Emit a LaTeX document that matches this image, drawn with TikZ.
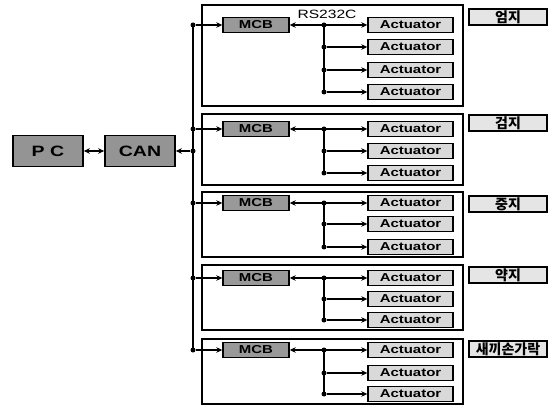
\documentclass[tikz,border=0pt]{standalone}
\usepackage{fontspec}
\setmainfont{Liberation Sans}
\newfontfamily\widefont[FakeStretch=1.3]{Liberation Sans}
\newfontfamily\krfont{Noto Sans CJK KR}
\usetikzlibrary{arrows.meta,positioning}

\begin{document}
\begin{tikzpicture}[x=1pt,y=-1pt,>={Stealth[length=6pt,width=5.5pt]},
  dev/.style={draw,line width=1.6pt,fill=black!42,minimum width=70pt,minimum height=31pt,inner sep=0pt,font=\widefont\fontsize{15}{15}\selectfont\bfseries},
  mcb/.style={draw,line width=1.4pt,fill=black!40,minimum width=66pt,minimum height=15pt,inner sep=0pt,font=\widefont\fontsize{11.5}{12}\selectfont\bfseries},
  act/.style={draw,line width=1.4pt,fill=black!15,minimum width=85pt,minimum height=15pt,inner sep=0pt,font=\widefont\fontsize{11.5}{12}\selectfont\bfseries},
  lbl/.style={draw,line width=1.4pt,fill=black!10,minimum width=78pt,minimum height=16pt,inner sep=0pt,font=\krfont\fontsize{14}{14}\selectfont\bfseries},
  grp/.style={draw,line width=2.4pt,minimum width=261pt,inner sep=0pt},
  wire/.style={line width=1.3pt},
  dot/.style={circle,fill,inner sep=0pt,minimum size=5pt}]
\useasboundingbox (0,0) rectangle (557,406);
\node[dev] (pc) at (48,151) {P C};
\node[dev] (can) at (140,151) {CAN};
\node[grp,minimum height=101pt] (g1) at (332.5,55.5) {};
\node[grp,minimum height=71pt] (g2) at (332.5,149.5) {};
\node[grp,minimum height=65pt] (g3) at (332.5,224.5) {};
\node[grp,minimum height=65pt] (g4) at (332.5,297.5) {};
\node[grp,minimum height=65pt] (g5) at (332.5,371.5) {};
\node[mcb] (m1) at (256,25) {MCB};
\node[mcb] (m2) at (256,129) {MCB};
\node[mcb] (m3) at (256,203) {MCB};
\node[mcb] (m4) at (256,278) {MCB};
\node[mcb] (m5) at (256,350) {MCB};
\node[act] (a11) at (410.5,25) {Actuator};
\node[act] (a12) at (410.5,47) {Actuator};
\node[act] (a13) at (410.5,70) {Actuator};
\node[act] (a14) at (410.5,92) {Actuator};
\node[act] (a21) at (410.5,129) {Actuator};
\node[act] (a22) at (410.5,151) {Actuator};
\node[act] (a23) at (410.5,173) {Actuator};
\node[act] (a31) at (410.5,203) {Actuator};
\node[act] (a32) at (410.5,224) {Actuator};
\node[act] (a33) at (410.5,247) {Actuator};
\node[act] (a41) at (410.5,278) {Actuator};
\node[act] (a42) at (410.5,299) {Actuator};
\node[act] (a43) at (410.5,320) {Actuator};
\node[act] (a51) at (410.5,350) {Actuator};
\node[act] (a52) at (410.5,373) {Actuator};
\node[act] (a53) at (410.5,394) {Actuator};
\node[lbl] (l1) at (508,17) {엄지};
\node[lbl] (l2) at (508,123) {검지};
\node[lbl] (l3) at (508,204) {중지};
\node[lbl] (l4) at (508,275) {약지};
\node[lbl] (l5) at (508,349) {새끼손가락};
\node[font=\widefont\fontsize{12}{12}\selectfont] (rs) at (327,14) {RS232C};
\node[dot] (b1) at (193,25) {};
\node[dot] (b2) at (193,129) {};
\node[dot] (bc) at (193,151) {};
\node[dot] (b3) at (193,203) {};
\node[dot] (b4) at (193,278) {};
\node[dot] (b5) at (193,350) {};
\node[dot] (j11) at (324,25) {};
\node[dot] (j12) at (324,47) {};
\node[dot] (j13) at (324,70) {};
\node[dot] (j14) at (324,92) {};
\node[dot] (j21) at (324,129) {};
\node[dot] (j22) at (324,151) {};
\node[dot] (j23) at (324,173) {};
\node[dot] (j31) at (324,203) {};
\node[dot] (j32) at (324,224) {};
\node[dot] (j33) at (324,247) {};
\node[dot] (j41) at (324,278) {};
\node[dot] (j42) at (324,299) {};
\node[dot] (j43) at (324,320) {};
\node[dot] (j51) at (324,350) {};
\node[dot] (j52) at (324,373) {};
\node[dot] (j53) at (324,394) {};
\draw[wire,<->] (pc) -- (can);
\draw[wire,line width=1.8pt] (b1.center) -- (b5.center);
\draw[wire,->] (bc) -- (can);
\draw[wire,->] (b1) -- (m1); \draw[wire,->] (b2) -- (m2); \draw[wire,->] (b3) -- (m3);
\draw[wire,->] (b4) -- (m4); \draw[wire,->] (b5) -- (m5);
\draw[wire,<->] (m1) -- (a11); \draw[wire] (j11.center) -- (j14.center);
\draw[wire,->] (j12) -- (a12); \draw[wire,->] (j13) -- (a13); \draw[wire,->] (j14) -- (a14);
\draw[wire,<->] (m2) -- (a21); \draw[wire] (j21.center) -- (j23.center);
\draw[wire,->] (j22) -- (a22); \draw[wire,->] (j23) -- (a23);
\draw[wire,<->] (m3) -- (a31); \draw[wire] (j31.center) -- (j33.center);
\draw[wire,->] (j32) -- (a32); \draw[wire,->] (j33) -- (a33);
\draw[wire,<->] (m4) -- (a41); \draw[wire] (j41.center) -- (j43.center);
\draw[wire,->] (j42) -- (a42); \draw[wire,->] (j43) -- (a43);
\draw[wire,<->] (m5) -- (a51); \draw[wire] (j51.center) -- (j53.center);
\draw[wire,->] (j52) -- (a52); \draw[wire,->] (j53) -- (a53);
\end{tikzpicture}
\end{document}
